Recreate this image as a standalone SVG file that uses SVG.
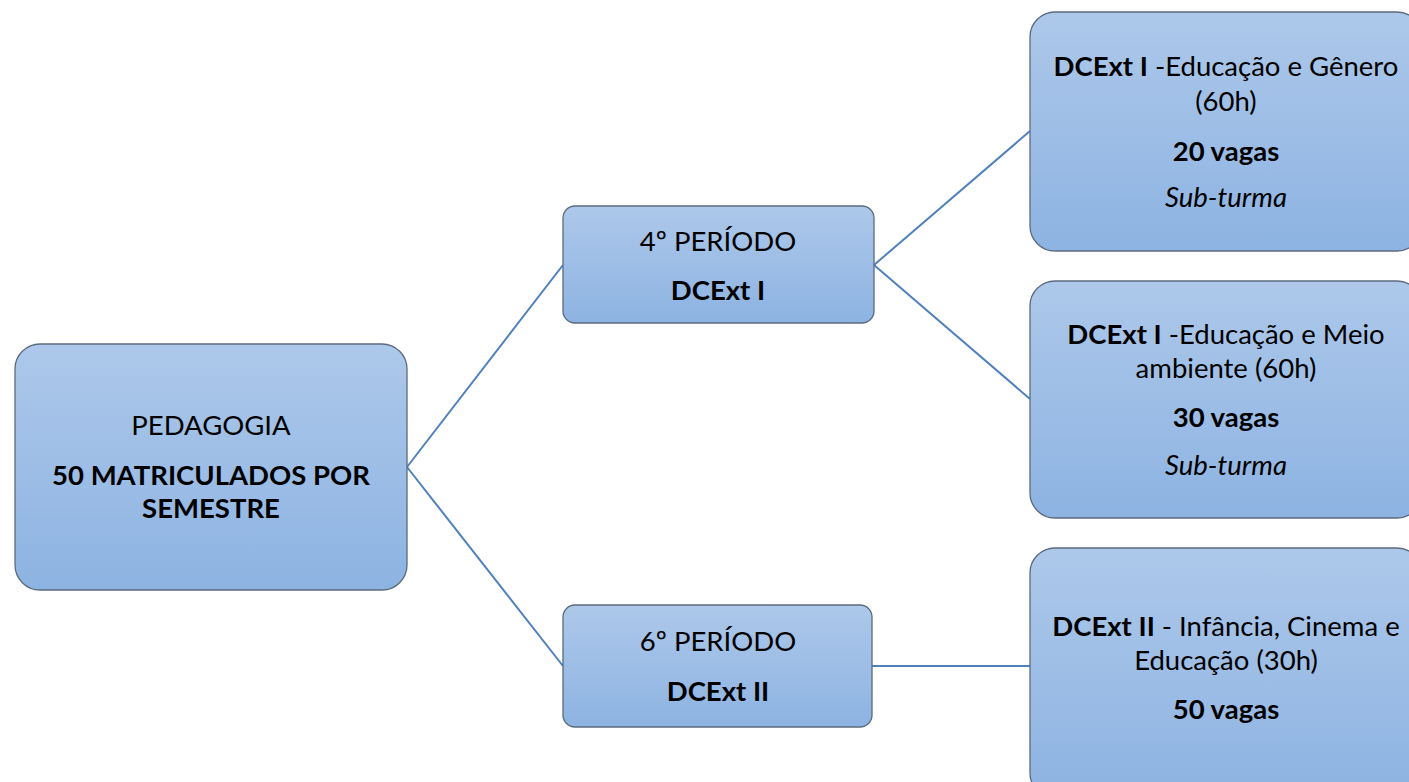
<svg xmlns="http://www.w3.org/2000/svg" width="1409" height="782" viewBox="0 0 1409 782">
<style>
.box{fill:url(#g);stroke:#5b6b7e;stroke-width:1.3}
.t{font-family:Lato,"Liberation Sans",sans-serif;font-size:27.5px;fill:#000;text-anchor:middle}
.b{font-weight:bold}
.i{font-style:italic}
.c{stroke:#4f81bd;stroke-width:2;fill:none}
</style>
<defs>
<linearGradient id="g" x1="0" y1="0" x2="0" y2="1">
<stop offset="0" stop-color="#adc8ea"/>
<stop offset="1" stop-color="#8db3e2"/>
</linearGradient>
</defs>
<g id="connectors">
<path class="c" d="M407 467 L563 265"/>
<path class="c" d="M407 467 L563 666"/>
<path class="c" d="M874 265 L1030 131"/>
<path class="c" d="M874 265 L1030 399"/>
<path class="c" d="M872 666 L1030 666"/>
</g>
<g id="root">
<rect class="box" x="15" y="344" width="392" height="246" rx="25"/>
<text class="t" x="211" y="435">PEDAGOGIA</text>
<text class="t b" x="211" y="485">50 MATRICULADOS POR</text>
<text class="t b" x="211" y="518">SEMESTRE</text>
</g>
<g id="p4">
<rect class="box" x="563" y="206" width="311" height="117" rx="12"/>
<text class="t" x="718" y="251">4º PERÍODO</text>
<text class="t b" x="718" y="300">DCExt I</text>
</g>
<g id="p6">
<rect class="box" x="563" y="605" width="309" height="122" rx="12"/>
<text class="t" x="718" y="651">6º PERÍODO</text>
<text class="t b" x="718" y="701">DCExt II</text>
</g>
<g id="n1">
<rect class="box" x="1030" y="12" width="392" height="239" rx="25"/>
<text class="t" x="1226" y="76"><tspan class="b">DCExt I</tspan> -Educação e Gênero</text>
<text class="t" x="1226" y="111">(60h)</text>
<text class="t b" x="1226" y="161">20 vagas</text>
<text class="t i" x="1226" y="207">Sub-turma</text>
</g>
<g id="n2">
<rect class="box" x="1030" y="281" width="392" height="237" rx="25"/>
<text class="t" x="1226" y="344"><tspan class="b">DCExt I</tspan> -Educação e Meio</text>
<text class="t" x="1226" y="378">ambiente (60h)</text>
<text class="t b" x="1226" y="427">30 vagas</text>
<text class="t i" x="1226" y="475">Sub-turma</text>
</g>
<g id="n3">
<rect class="box" x="1030" y="548" width="392" height="250" rx="25"/>
<text class="t" x="1226" y="636"><tspan class="b">DCExt II</tspan> - Infância, Cinema e</text>
<text class="t" x="1226" y="670">Educação (30h)</text>
<text class="t b" x="1226" y="719">50 vagas</text>
</g>
</svg>
